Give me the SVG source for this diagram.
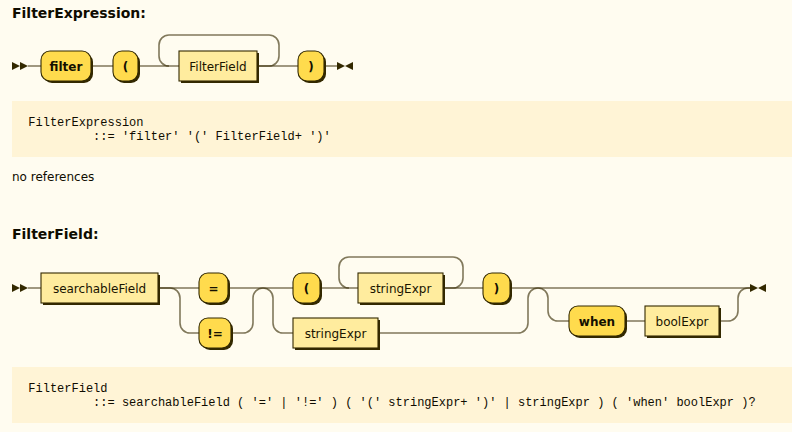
<svg xmlns="http://www.w3.org/2000/svg" width="792" height="432" viewBox="0 0 792 432">
<style>
.bg{fill:#FFFCF0}
.code{fill:#FFF4D6}
.title{font-family:"DejaVu Sans",Verdana,sans-serif;font-size:14px;font-weight:bold;fill:#0F0C00}
.body{font-family:"DejaVu Sans",Verdana,sans-serif;font-size:12px;fill:#0F0C00}
.mono{font-family:"Liberation Mono","Courier New",monospace;font-size:12px;fill:#0F0C00}
.line{fill:none;stroke:#332900;stroke-opacity:0.62;stroke-width:1.6}
.shadow{fill:#332900;stroke:none}
.term{fill:#FFDB4D;stroke:#332900;stroke-width:1.1}
.nonterm{fill:#FFEC9E;stroke:#332900;stroke-width:1.1}
.tt{font-family:"DejaVu Sans",Verdana,sans-serif;font-size:12px;font-weight:bold;fill:#141000;text-anchor:middle}
.nt{font-family:"DejaVu Sans",Verdana,sans-serif;font-size:12px;fill:#1A1400;text-anchor:middle}
.mark{fill:#332900;stroke:none}
</style>
<rect class="bg" x="0" y="0" width="792" height="432"/>

<text class="title" x="12" y="18">FilterExpression:</text>

<g id="connectors1">
<path class="line" d="M28 66H41 M91 66H113 M138 66H179 M257 66H298 M324 66H337"/>
<path class="line" d="M257 66H269A10 10 0 0 0 279 56V45A10 10 0 0 0 269 35H169A10 10 0 0 0 159 45V56A10 10 0 0 0 169 66"/>
</g>
<g id="start1"><polygon class="mark" points="12,62 20,66 12,70"/><polygon class="mark" points="20,62 28,66 20,70"/></g>
<g id="filter"><rect class="shadow" x="43" y="53" width="50" height="30" rx="9"/><rect class="term" x="41" y="51" width="50" height="30" rx="9"/><text class="tt" x="66" y="70.5">filter</text></g>
<g id="lparen1"><rect class="shadow" x="115" y="53" width="25" height="30" rx="9"/><rect class="term" x="113" y="51" width="25" height="30" rx="9"/><text class="tt" x="125.5" y="70.5">(</text></g>
<g id="FilterField"><rect class="shadow" x="181" y="53" width="78" height="30"/><rect class="nonterm" x="179" y="51" width="78" height="30"/><text class="nt" x="218" y="70.5">FilterField</text></g>
<g id="rparen1"><rect class="shadow" x="300" y="53" width="26" height="30" rx="9"/><rect class="term" x="298" y="51" width="26" height="30" rx="9"/><text class="tt" x="311" y="70.5">)</text></g>
<g id="end1"><polygon class="mark" points="337,62 345,66 337,70"/><polygon class="mark" points="353,62 345,66 353,70"/></g>

<g id="ebnf1">
<rect class="code" x="12" y="101" width="780" height="56"/>
<text class="mono" x="28.3" y="125.5">FilterExpression</text>
<text class="mono" x="93.1" y="139.5">::= 'filter' '(' FilterField+ ')'</text>
</g>

<text class="body" x="12" y="180.5">no references</text>

<text class="title" x="12" y="239">FilterField:</text>

<g id="connectors2">
<path class="line" d="M28 288H41 M158 288H199 M228 288H293 M320 288H358 M443 288H483 M510 288H750"/>
<path class="line" d="M160 288H170A10 10 0 0 1 180 298V323A10 10 0 0 0 190 333H199"/>
<path class="line" d="M231 333H243A10 10 0 0 0 253 323V298A10 10 0 0 1 263 288A10 10 0 0 1 273 298V323A10 10 0 0 0 283 333H293"/>
<path class="line" d="M443 288H453A10 10 0 0 0 463 278V267A10 10 0 0 0 453 257H349A10 10 0 0 0 339 267V278A10 10 0 0 0 349 288"/>
<path class="line" d="M378 333H518A10 10 0 0 0 528 323V298A10 10 0 0 1 538 288A10 10 0 0 1 548 298V311A10 10 0 0 0 558 321H569"/>
<path class="line" d="M625 321H645 M719 321H728A10 10 0 0 0 738 311V298A10 10 0 0 1 748 288H750"/>
</g>
<g id="start2"><polygon class="mark" points="12,284 20,288 12,292"/><polygon class="mark" points="20,284 28,288 20,292"/></g>
<g id="searchableField"><rect class="shadow" x="43" y="275" width="117" height="30"/><rect class="nonterm" x="41" y="273" width="117" height="30"/><text class="nt" x="99.5" y="292.5">searchableField</text></g>
<g id="eq"><rect class="shadow" x="201" y="275" width="29" height="30" rx="9"/><rect class="term" x="199" y="273" width="29" height="30" rx="9"/><text class="tt" x="213.5" y="292.5">=</text></g>
<g id="neq"><rect class="shadow" x="201" y="320" width="32" height="30" rx="9"/><rect class="term" x="199" y="318" width="32" height="30" rx="9"/><text class="tt" x="215" y="337.5">!=</text></g>
<g id="lparen2"><rect class="shadow" x="295" y="275" width="27" height="30" rx="9"/><rect class="term" x="293" y="273" width="27" height="30" rx="9"/><text class="tt" x="306.5" y="292.5">(</text></g>
<g id="stringExpr1"><rect class="shadow" x="360" y="275" width="85" height="30"/><rect class="nonterm" x="358" y="273" width="85" height="30"/><text class="nt" x="400.5" y="292.5">stringExpr</text></g>
<g id="rparen2"><rect class="shadow" x="485" y="275" width="27" height="30" rx="9"/><rect class="term" x="483" y="273" width="27" height="30" rx="9"/><text class="tt" x="496.5" y="292.5">)</text></g>
<g id="stringExpr2"><rect class="shadow" x="295" y="320" width="85" height="30"/><rect class="nonterm" x="293" y="318" width="85" height="30"/><text class="nt" x="335.5" y="337.5">stringExpr</text></g>
<g id="when"><rect class="shadow" x="571" y="308" width="56" height="30" rx="9"/><rect class="term" x="569" y="306" width="56" height="30" rx="9"/><text class="tt" x="597" y="325.5">when</text></g>
<g id="boolExpr"><rect class="shadow" x="647" y="308" width="74" height="30"/><rect class="nonterm" x="645" y="306" width="74" height="30"/><text class="nt" x="682" y="325.5">boolExpr</text></g>
<g id="end2"><polygon class="mark" points="750,284 758,288 750,292"/><polygon class="mark" points="766,284 758,288 766,292"/></g>

<g id="ebnf2">
<rect class="code" x="12" y="367" width="780" height="56"/>
<text class="mono" x="28.3" y="391.5">FilterField</text>
<text class="mono" x="93.1" y="405.5">::= searchableField ( '=' | '!=' ) ( '(' stringExpr+ ')' | stringExpr ) ( 'when' boolExpr )?</text>
</g>
</svg>
